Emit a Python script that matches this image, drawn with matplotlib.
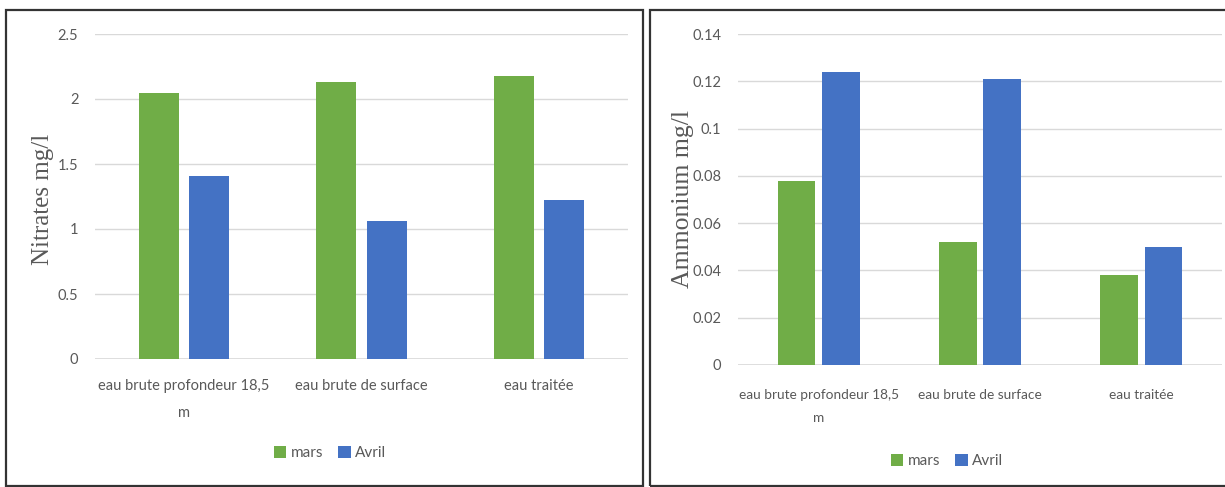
import matplotlib
matplotlib.use("Agg")
import matplotlib.pyplot as plt
from matplotlib.patches import Rectangle
import numpy as np

categories = ["eau brute profondeur 18,5\nm", "eau brute de surface", "eau traitée"]
series_names = ["mars", "Avril"]
nitrates_mars = [2.05, 2.13, 2.18]
nitrates_avril = [1.41, 1.06, 1.22]
ammonium_mars = [0.078, 0.052, 0.038]
ammonium_avril = [0.124, 0.121, 0.050]
nitrates_ticks = [0, 0.5, 1, 1.5, 2, 2.5]
nitrates_ticklabels = ["0", "0.5", "1", "1.5", "2", "2.5"]
ammonium_ticks = [0, 0.02, 0.04, 0.06, 0.08, 0.1, 0.12, 0.14]
ammonium_ticklabels = ["0", "0.02", "0.04", "0.06", "0.08", "0.1", "0.12", "0.14"]

GREEN = "#70AD47"
BLUE = "#4472C4"
GRAY = "#595959"
GRID = "#D9D9D9"
TICKFONT = ["Lato", "DejaVu Sans"]

W, H = 1225, 487
fig = plt.figure(figsize=(W / 100, H / 100), dpi=100)


def px_axes(x0, y0, x1, y1):
    return fig.add_axes([x0 / W, (H - y1) / H, (x1 - x0) / W, (y1 - y0) / H])


def border(x0, y0, x1, y1):
    fig.patches.append(Rectangle((x0 / W, (H - y1) / H), (x1 - x0) / W, (y1 - y0) / H,
                                 transform=fig.transFigure, fill=False,
                                 edgecolor="#333333", linewidth=1.6))


def draw(ax, mars, avril, ticks, ticklabels, ymax, width, gap, xpad, xsize, lsp):
    x = np.arange(len(categories))
    off = (width + gap) / 2
    ax.bar(x - off, mars, width, color=GREEN, label=series_names[0], zorder=3)
    ax.bar(x + off, avril, width, color=BLUE, label=series_names[1], zorder=3)
    ax.set_xlim(-0.5, len(categories) - 0.5)
    ax.set_ylim(0, ymax)
    ax.set_yticks(ticks)
    ax.set_yticklabels(ticklabels, fontfamily=TICKFONT, fontsize=10.5, color=GRAY)
    ax.set_xticks(x)
    ax.set_xticklabels(categories, fontfamily=TICKFONT, fontsize=xsize, color=GRAY,
                       linespacing=lsp)
    ax.tick_params(axis="both", length=0)
    ax.tick_params(axis="y", pad=12)
    ax.tick_params(axis="x", pad=xpad)
    ax.grid(axis="y", color=GRID, linewidth=1, zorder=0)
    for s in ax.spines.values():
        s.set_visible(False)
    ax.axhline(0, color=GRID, linewidth=1.2, zorder=2)


# Left panel
border(6, 10, 643, 486)
ax1 = px_axes(95, 34, 628, 359)
draw(ax1, nitrates_mars, nitrates_avril, nitrates_ticks, nitrates_ticklabels, 2.5,
     0.225, 0.06, 14.5, 10.5, 2.2)
fig.text(43 / W, 1 - 199 / H, "Nitrates mg/l", rotation=90, ha="center", va="center",
         fontfamily="Liberation Serif", fontsize=18, color=GRAY)
leg1 = ax1.legend(loc="center", bbox_to_anchor=((330 - 95) / 533, -(453 - 359) / 325),
                  ncol=2, frameon=False, handlelength=0.8, handleheight=0.8,
                  handletextpad=0.3, columnspacing=1.0,
                  prop={"family": TICKFONT, "size": 11})
for t in leg1.get_texts():
    t.set_color(GRAY)

# Right panel
border(650, 10, 1232, 486)
ax2 = px_axes(738, 34, 1222, 365)
draw(ax2, ammonium_mars, ammonium_avril, ammonium_ticks, ammonium_ticklabels, 0.14,
     0.235, 0.04, 17.5, 9.8, 2.1)
fig.text(683 / W, 1 - 199 / H, "Ammonium mg/l", rotation=90, ha="center", va="center",
         fontfamily="Liberation Serif", fontsize=18.5, color=GRAY)
leg2 = ax2.legend(loc="center", bbox_to_anchor=((947 - 738) / 484, -(461 - 365) / 331),
                  ncol=2, frameon=False, handlelength=0.8, handleheight=0.8,
                  handletextpad=0.3, columnspacing=1.0,
                  prop={"family": TICKFONT, "size": 11})
for t in leg2.get_texts():
    t.set_color(GRAY)

fig.savefig("out.png", dpi=100)
